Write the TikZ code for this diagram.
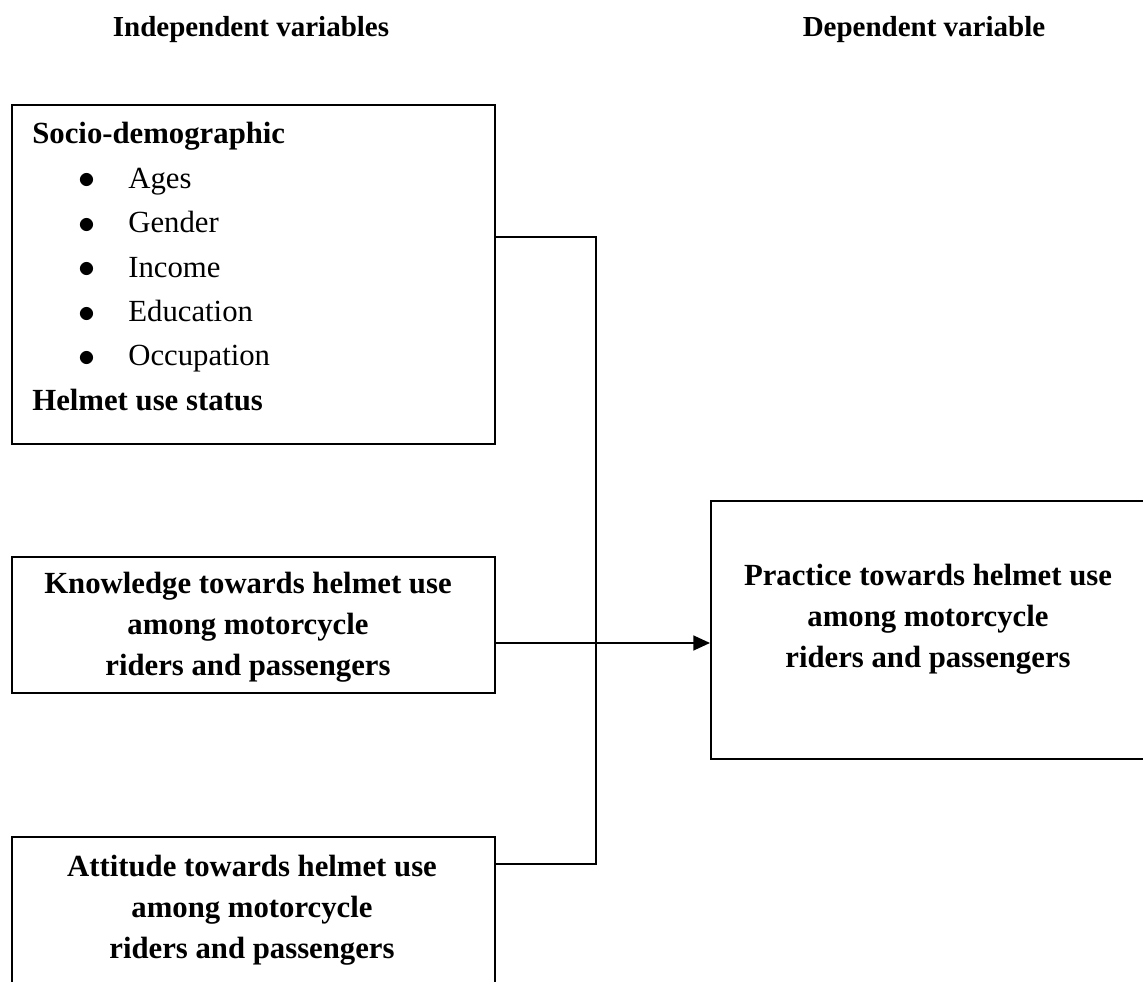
\documentclass[tikz,border=0pt]{standalone}
\usepackage{fontspec}
\setmainfont{Liberation Serif}
\usetikzlibrary{arrows.meta}
\newlength\pxu
\setlength\pxu{0.02cm}
\tikzset{
  box/.style={draw=black, line width=1.2pt, rectangle, inner sep=0pt, anchor=north west},
  boxtext/.style={font=\fontsize{17.5}{23.3}\selectfont\bfseries, align=center, inner sep=0pt},
  heading/.style={font=\fontsize{16.5}{20}\selectfont\bfseries, inner sep=0pt},
  conn/.style={draw=black, line width=1pt},
  arr/.style={conn, -{Triangle[length=9.5pt,width=8.5pt]}}
}
\newcommand{\bul}[1]{\hspace*{55\pxu}\makebox[0pt]{\raisebox{-0.3pt}{\scalebox{1.12}{$\bullet$}}}\hspace*{41\pxu}#1}
\begin{document}
\begin{tikzpicture}[x=0.02cm,y=-0.02cm]
\useasboundingbox (0,0) rectangle (1143,982);
\clip (0,0) rectangle (1143,982);
% headings
\node[heading] (hind) at (251,30) {Independent variables};
\node[heading] (hdep) at (924,30) {Dependent variable};
% boxes
\node[box, minimum width=483\pxu, minimum height=339\pxu] (socio) at (11,104) {};
\node[box, minimum width=483\pxu, minimum height=136\pxu] (know) at (11,556) {};
\node[box, minimum width=483\pxu, minimum height=220\pxu] (att) at (11,836) {};
\node[box, minimum width=470\pxu, minimum height=258\pxu] (prac) at (710,500) {};
% texts
\node[font=\fontsize{17.5}{25.3}\selectfont, align=left, inner sep=0pt, anchor=north west] (sociot) at (32,122)
  {\textbf{Socio-demographic}\\
   \bul{Ages}\\
   \bul{Gender}\\
   \bul{Income}\\
   \bul{Education}\\
   \bul{Occupation}\\
   \textbf{Helmet use status}};
\node[boxtext] (knowt) at (248,627) {Knowledge towards helmet use\\among motorcycle\\riders and passengers};
\node[boxtext] (attt) at (252,910) {Attitude towards helmet use\\among motorcycle\\riders and passengers};
\node[boxtext] (pract) at (928,619) {Practice towards helmet use\\among motorcycle\\riders and passengers};
% connectors
\coordinate (j1) at (596,237);
\coordinate (j2) at (596,643);
\coordinate (j3) at (596,864);
\draw[conn] (j1 -| socio.east) -- (j1) -- (j3) -- (j3 -| att.east);
\draw[arr] (j2 -| know.east) -- (j2 -| prac.west);
\end{tikzpicture}
\end{document}
